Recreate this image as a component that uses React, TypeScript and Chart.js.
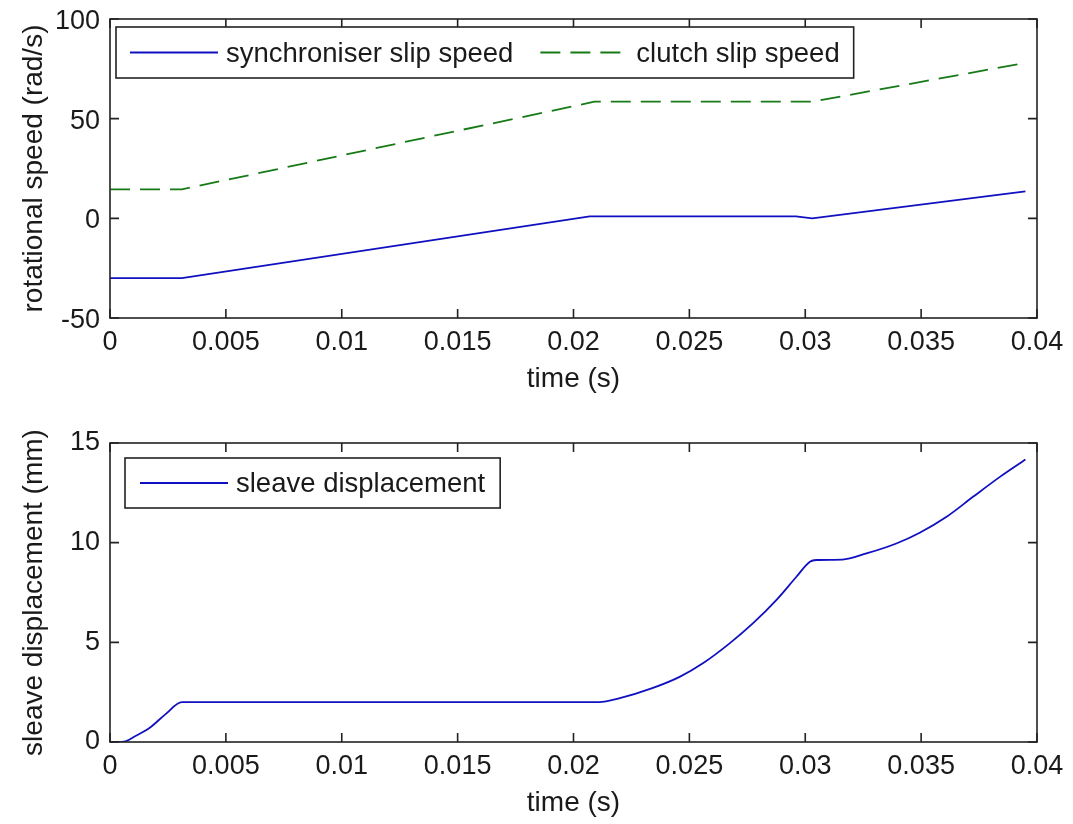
import React, { useEffect, useRef } from "react";
import { Chart, registerables } from "chart.js";

Chart.register(...registerables);

// ---------- data ----------
const syncTime = [0, 0.0031, 0.0207, 0.0296, 0.0303, 0.0395];
const syncSlip = [-30, -30, 1, 1, 0, 13.5];

const clutchTime = [0, 0.0031, 0.0209, 0.0303, 0.0395];
const clutchSlip = [14.5, 14.5, 58.5, 58.5, 78];

const dispTime = [
  0, 0.0006, 0.0011, 0.0017, 0.0024, 0.0031, 0.0211, 0.022, 0.0234, 0.0246,
  0.0256, 0.02675, 0.02775, 0.02876, 0.02962, 0.0302, 0.03048, 0.0316, 0.03264,
  0.03393, 0.03494, 0.0361, 0.03724, 0.0384, 0.0395,
];
const sleaveDisp = [
  0, 0.02, 0.3, 0.7, 1.4, 2.0, 2.0, 2.2, 2.7, 3.28, 3.96, 4.96, 5.96, 7.13, 8.29,
  9.04, 9.13, 9.15, 9.46, 9.96, 10.5, 11.3, 12.3, 13.3, 14.17,
];

const timeTicks = [0, 0.005, 0.01, 0.015, 0.02, 0.025, 0.03, 0.035, 0.04];
const speedTicks = [-50, 0, 50, 100];
const dispTicks = [0, 5, 10, 15];

const seriesLabels = ["synchroniser slip speed", "clutch slip speed", "sleave displacement"];
const axisTitles = ["time (s)", "rotational speed (rad/s)", "sleave displacement (mm)"];

// ---------- styling ----------
const FAMILY = "'Liberation Sans', Arial, Helvetica, sans-serif";
const TEXT = "#1a1a1a";
const BLUE = "#1010c0";
const GREEN = "#167a16";

const fmtTime = (v: number) => (Math.abs(v) < 1e-12 ? "0" : String(+Number(v).toFixed(3)));

const zeroPad = (s: any) => {
  s.paddingTop = 0;
  s.paddingBottom = 0;
  s.paddingLeft = 0;
  s.paddingRight = 0;
};

const framePlugin = {
  id: "matlabFrame",
  afterDraw(chart: any, _args: any, opts: any) {
    const { ctx, chartArea: a, scales } = chart;
    const xs = scales.x;
    const ys = scales.y;
    ctx.save();
    ctx.setLineDash([]);
    ctx.strokeStyle = "#222";
    ctx.lineWidth = 1.6;
    const tl = 9;
    ctx.beginPath();
    xs.ticks.forEach((t: any) => {
      const px = xs.getPixelForValue(t.value);
      ctx.moveTo(px, a.bottom);
      ctx.lineTo(px, a.bottom - tl);
      ctx.moveTo(px, a.top);
      ctx.lineTo(px, a.top + tl);
    });
    ys.ticks.forEach((t: any) => {
      const py = ys.getPixelForValue(t.value);
      ctx.moveTo(a.left, py);
      ctx.lineTo(a.left + tl, py);
      ctx.moveTo(a.right, py);
      ctx.lineTo(a.right - tl, py);
    });
    ctx.stroke();
    ctx.strokeRect(a.left, a.top, a.right - a.left, a.bottom - a.top);

    // legend (MATLAB-style box inside the axes)
    const fs = opts.fontSize;
    ctx.font = `${fs}px ${FAMILY}`;
    const ds = chart.data.datasets;
    const lineLen = 88;
    const gap = 8;
    const itemGap = 27;
    let w = opts.padX * 2;
    ds.forEach((d: any, i: number) => {
      w += lineLen + gap + ctx.measureText(d.label).width;
      if (i > 0) w += itemGap;
    });
    const bx = a.left + opts.dx;
    const by = a.top + opts.dy;
    const bh = opts.h;
    ctx.fillStyle = "#fff";
    ctx.fillRect(bx, by, w, bh);
    ctx.strokeStyle = "#222";
    ctx.lineWidth = 1.6;
    ctx.strokeRect(bx, by, w, bh);
    const cy = by + bh / 2;
    let cx = bx + opts.padX;
    ds.forEach((d: any, i: number) => {
      if (i > 0) cx += itemGap;
      ctx.save();
      ctx.strokeStyle = d.borderColor;
      ctx.lineWidth = d.borderWidth;
      ctx.setLineDash(d.borderDash || []);
      ctx.beginPath();
      ctx.moveTo(cx, cy);
      ctx.lineTo(cx + lineLen, cy);
      ctx.stroke();
      ctx.restore();
      cx += lineLen + gap;
      ctx.fillStyle = TEXT;
      ctx.textBaseline = "middle";
      ctx.textAlign = "left";
      ctx.fillText(d.label, cx, cy + 1.5);
      cx += ctx.measureText(d.label).width;
    });
    ctx.restore();
  },
};

function makeOptions(cfg: any) {
  return {
    animation: false,
    responsive: false,
    devicePixelRatio: 1,
    layout: { padding: { top: cfg.padTop, right: 36, left: 0, bottom: 0 } },
    elements: { point: { radius: 0 } },
    plugins: {
      legend: { display: false },
      tooltip: { enabled: false },
      matlabFrame: cfg.legend,
    },
    scales: {
      x: {
        type: "linear",
        min: 0,
        max: 0.04,
        afterBuildTicks: (s: any) => {
          s.ticks = timeTicks.map((v) => ({ value: v }));
        },
        afterFit: (s: any) => {
          s.height = cfg.xHeight;
          zeroPad(s);
        },
        grid: { display: false, drawTicks: false },
        border: { display: false },
        ticks: {
          padding: 8,
          color: TEXT,
          font: { family: FAMILY, size: 27 },
          autoSkip: false,
          maxRotation: 0,
          callback: (v: any) => fmtTime(Number(v)),
        },
        title: {
          display: true,
          text: axisTitles[0],
          color: TEXT,
          font: { family: FAMILY, size: 28 },
          padding: 0,
        },
      },
      y: {
        type: "linear",
        min: cfg.yMin,
        max: cfg.yMax,
        afterBuildTicks: (s: any) => {
          s.ticks = cfg.yTicks.map((v: number) => ({ value: v }));
        },
        afterFit: (s: any) => {
          s.width = 110;
          zeroPad(s);
        },
        grid: { display: false, drawTicks: false },
        border: { display: false },
        ticks: {
          padding: 10,
          labelOffset: cfg.yLabelOffset,
          color: TEXT,
          font: { family: FAMILY, size: 27 },
          autoSkip: false,
          callback: (v: any) => String(v),
        },
        title: {
          display: true,
          text: cfg.yTitle,
          color: TEXT,
          font: { family: FAMILY, size: 28 },
          padding: { top: 17, bottom: 0 },
        },
      },
    },
  };
}

export default function App() {
  const topRef = useRef<HTMLCanvasElement | null>(null);
  const botRef = useRef<HTMLCanvasElement | null>(null);

  useEffect(() => {
    const topChart = new Chart(topRef.current as HTMLCanvasElement, {
      type: "line",
      data: {
        datasets: [
          {
            label: seriesLabels[0],
            data: syncTime.map((t, i) => ({ x: t, y: syncSlip[i] })),
            borderColor: BLUE,
            backgroundColor: "transparent",
            borderWidth: 1.8,
            tension: 0,
          },
          {
            label: seriesLabels[1],
            data: clutchTime.map((t, i) => ({ x: t, y: clutchSlip[i] })),
            borderColor: GREEN,
            backgroundColor: "transparent",
            borderWidth: 1.8,
            borderDash: [20, 10],
            tension: 0,
          },
        ],
      },
      options: makeOptions({
        padTop: 19,
        xHeight: 78,
        yMin: -50,
        yMax: 100,
        yTicks: speedTicks,
        yTitle: axisTitles[1],
        yLabelOffset: 2.5,
        legend: { dx: 6, dy: 8, h: 51, padX: 14, fontSize: 27.5 },
      }) as any,
      plugins: [framePlugin as any],
    });

    const botChart = new Chart(botRef.current as HTMLCanvasElement, {
      type: "line",
      data: {
        datasets: [
          {
            label: seriesLabels[2],
            data: dispTime.map((t, i) => ({ x: t, y: sleaveDisp[i] })),
            borderColor: BLUE,
            backgroundColor: "transparent",
            borderWidth: 1.8,
            cubicInterpolationMode: "monotone",
          },
        ],
      },
      options: makeOptions({
        padTop: 23,
        xHeight: 78,
        yMin: 0,
        yMax: 15,
        yTicks: dispTicks,
        yTitle: axisTitles[2],
        yLabelOffset: 0,
        legend: { dx: 15, dy: 15, h: 50, padX: 15, fontSize: 27.5 },
      }) as any,
      plugins: [framePlugin as any],
    });

    return () => {
      topChart.destroy();
      botChart.destroy();
    };
  }, []);

  return (
    <div style={{ position: "absolute", left: 0, top: 0, width: 1073, height: 824, background: "#fff" }}>
      <canvas
        ref={topRef}
        width={1073}
        height={396}
        style={{ position: "absolute", left: 0, top: 0, width: 1073, height: 396 }}
      />
      <canvas
        ref={botRef}
        width={1073}
        height={400}
        style={{ position: "absolute", left: 0, top: 420, width: 1073, height: 400 }}
      />
    </div>
  );
}
